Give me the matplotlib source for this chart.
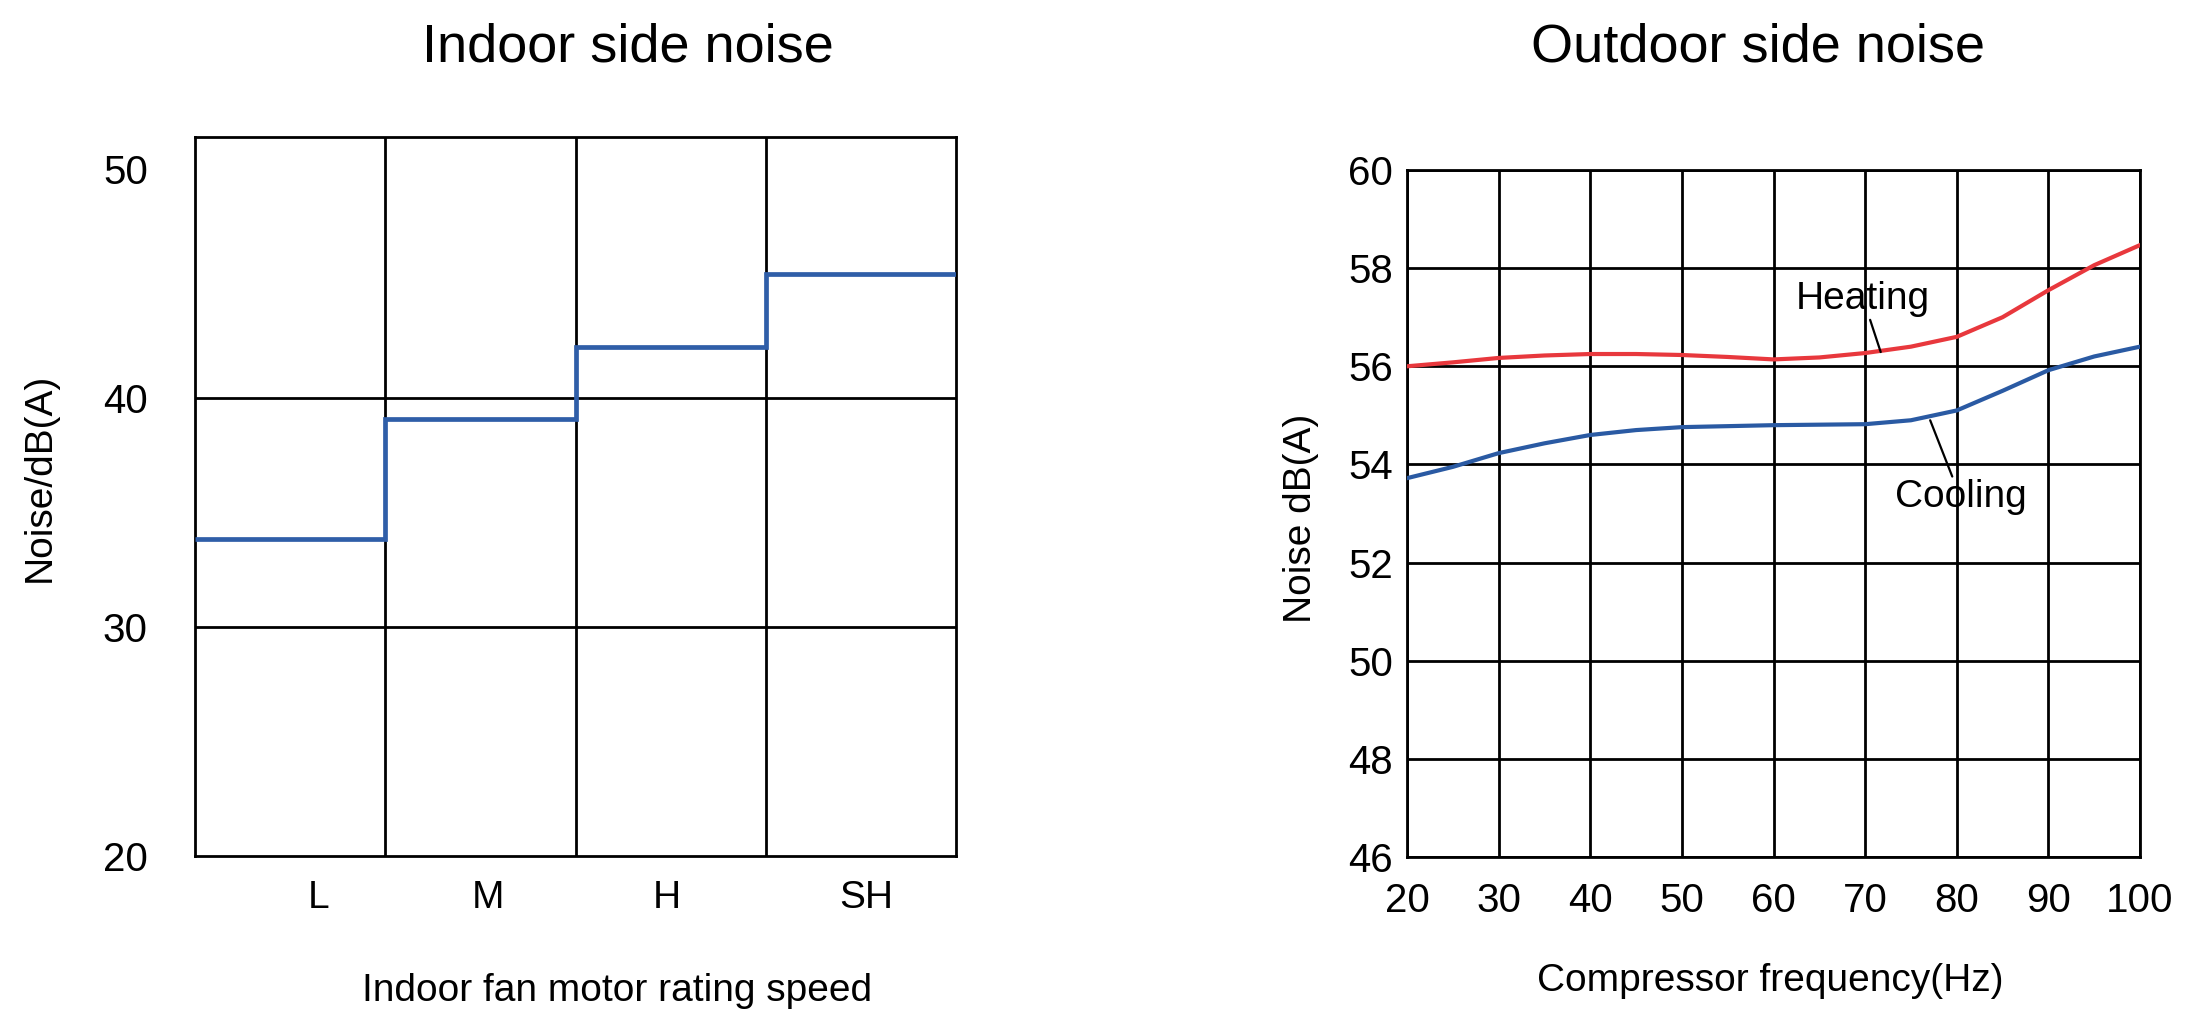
import matplotlib
matplotlib.use("Agg")
import matplotlib.pyplot as plt
import numpy as np

plt.rcParams["font.family"] = ["Liberation Sans", "DejaVu Sans"]

# indoor side: noise level per fan speed step
speeds = ["L", "M", "H", "SH"]
indoor_noise = [33.85, 39.1, 42.25, 45.4]

# outdoor side: noise vs compressor frequency
freq = [20, 25, 30, 35, 40, 45, 50, 55, 60, 65, 70, 75, 80, 85, 90, 95, 100]
heating = [56.0, 56.08, 56.17, 56.22, 56.25, 56.25, 56.23, 56.19, 56.14,
           56.18, 56.27, 56.4, 56.6, 57.0, 57.55, 58.06, 58.47]
cooling = [53.72, 53.95, 54.23, 54.43, 54.6, 54.7, 54.76, 54.78, 54.8,
           54.81, 54.82, 54.9, 55.1, 55.5, 55.92, 56.2, 56.4]

indoor_yticks = [20, 30, 40, 50]
outdoor_xticks = [20, 30, 40, 50, 60, 70, 80, 90, 100]
outdoor_yticks = [46, 48, 50, 52, 54, 56, 58, 60]

W, H = 2188, 1011
fig = plt.figure(figsize=(W / 100, H / 100), dpi=100)

tick_fs = 29
label_fs = 28
title_fs = 39
line_w = 2.0
grid_kw = dict(color="black", linewidth=line_w, zorder=1)

# ---- left: indoor side noise
ax1 = fig.add_axes([195 / W, 1 - 856 / H, 761 / W, 719 / H])
edges = np.arange(len(speeds) + 1)
ax1.stairs(indoor_noise, edges, baseline=None, color="#2f5ea8", linewidth=3.4, zorder=3)
ax1.set_xlim(0, len(speeds))
ax1.set_ylim(20, 51.4)
for x in edges[1:-1]:
    ax1.axvline(x, **grid_kw)
for y in indoor_yticks[1:-1]:
    ax1.axhline(y, **grid_kw)
# tick labels sit slightly off-centre in the source
offsets = [0.15, 0.04, -0.02, 0.03]
ax1.set_xticks(np.arange(len(speeds)) + 0.5 + np.array(offsets))
ax1.set_xticklabels(speeds)
ax1.set_yticks(indoor_yticks)
ax1.tick_params(axis="x", length=0, pad=17, labelsize=label_fs)
ax1.tick_params(axis="y", length=0, pad=34, labelsize=tick_fs)
for s in ax1.spines.values():
    s.set_linewidth(line_w)
fig.text(40 / W, 1 - 477 / H, "Noise/dB(A)", rotation=90, ha="center", va="center",
         fontsize=label_fs)
fig.text(617 / W, 1 - 1001 / H, "Indoor fan motor rating speed", ha="center",
         va="baseline", fontsize=label_fs)
fig.text(628 / W, 1 - 47 / H, "Indoor side noise", ha="center", va="center",
         fontsize=title_fs)

# ---- right: outdoor side noise
ax2 = fig.add_axes([1407 / W, 1 - 857 / H, 733 / W, 687 / H])
ax2.plot(freq, heating, color="#e8383d", linewidth=3.0, zorder=3, solid_joinstyle="round")
ax2.plot(freq, cooling, color="#2a5aa3", linewidth=3.0, zorder=3, solid_joinstyle="round")
ax2.set_xlim(outdoor_xticks[0], outdoor_xticks[-1])
ax2.set_ylim(outdoor_yticks[0], outdoor_yticks[-1])
ax2.set_xticks(outdoor_xticks)
ax2.set_yticks(outdoor_yticks)
ax2.grid(True, color="black", linewidth=line_w, zorder=1)
ax2.set_axisbelow(True)
ax2.tick_params(axis="x", length=0, pad=18, labelsize=tick_fs)
ax2.tick_params(axis="y", length=0, pad=10, labelsize=tick_fs)
for s in ax2.spines.values():
    s.set_linewidth(line_w)

ax2.annotate("Heating", xy=(71.7, 56.29), xytext=(69.8, 57.37), ha="center", va="center",
             fontsize=label_fs, zorder=4,
             arrowprops=dict(arrowstyle="-", color="black", linewidth=1.6, shrinkA=0, shrinkB=0))
ax2.annotate("Cooling", xy=(77.1, 54.9), xytext=(80.4, 53.33), ha="center", va="center",
             fontsize=label_fs, zorder=4,
             arrowprops=dict(arrowstyle="-", color="black", linewidth=1.6, shrinkA=0, shrinkB=0))

fig.text(1301 / W, 1 - 518 / H, "Noise dB(A)", rotation=90, ha="center", va="center",
         fontsize=label_fs)
fig.text(1770 / W, 1 - 991 / H, "Compressor frequency(Hz)", ha="center", va="baseline",
         fontsize=label_fs)
fig.text(1758 / W, 1 - 48 / H, "Outdoor side noise", ha="center", va="center",
         fontsize=title_fs)

fig.savefig("out.png", dpi=100, facecolor="white")
